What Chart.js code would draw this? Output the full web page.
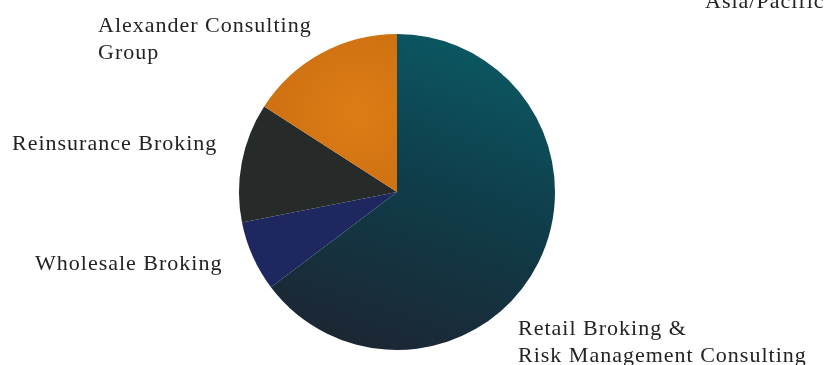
<!DOCTYPE html>
<html lang="en">

<head>
    <meta charset="UTF-8">
    <title>Business Mix</title>
    <style>
        html, body { margin: 0; padding: 0; background: #fff; }
        #wrap { width: 825px; height: 365px; }
    </style>
</head>

<body>
    <div id="wrap">
        <canvas id="myChart01"></canvas>
    </div>
</body>
<script src="https://cdn.jsdelivr.net/npm/chart.js"></script>
<script>
    // slices, clockwise from 12 o'clock (share of total, %)
    var segments = ['Retail Broking & Risk Management Consulting', 'Wholesale Broking', 'Reinsurance Broking', 'Alexander Consulting Group'];
    var shares = [64.7, 7.2, 12.2, 15.9];
    var sliceColors = ['#0f4450', '#1e2760', '#262a29', '#d67818'];

    // text around the pie
    var labelLines = [
        ['Alexander Consulting', 'Group'],
        ['Reinsurance Broking'],
        ['Wholesale Broking'],
        ['Retail Broking &', 'Risk Management Consulting'],
        ['Asia/Pacific']
    ];

    function sliceFill(context) {
        var chart = context.chart;
        var area = chart.chartArea;
        if (!area) return sliceColors[context.dataIndex];
        var cx = (area.left + area.right) / 2;
        var cy = (area.top + area.bottom) / 2;
        var r = Math.min(area.right - area.left, area.bottom - area.top) / 2;
        var ctx = chart.ctx;
        var g;
        if (context.dataIndex == 0) {
            g = ctx.createLinearGradient(cx + r * 0.35, cy - r, cx - r * 0.35, cy + r);
            g.addColorStop(0, '#0b5862');
            g.addColorStop(0.45, '#0f3d4a');
            g.addColorStop(1, '#1d2532');
            return g;
        }
        if (context.dataIndex == 3) {
            g = ctx.createRadialGradient(cx - r * 0.25, cy - r * 0.5, 5, cx - r * 0.25, cy - r * 0.5, r * 0.8);
            g.addColorStop(0, '#dc7c16');
            g.addColorStop(1, '#c86c10');
            return g;
        }
        return sliceColors[context.dataIndex];
    }

    // draws the outside captions
    var captions = {
        id: 'captions',
        afterDraw: function (chart) {
            var ctx = chart.ctx;
            var spots = [[98, 32], [12, 150], [35, 270], [518, 335], [705, 8]];
            ctx.save();
            ctx.fillStyle = '#222222';
            ctx.font = '22px "Liberation Serif", "DejaVu Serif", serif';
            ctx.letterSpacing = '1px';
            ctx.textBaseline = 'alphabetic';
            labelLines.forEach(function (lines, i) {
                lines.forEach(function (t, j) {
                    ctx.fillText(t, spots[i][0], spots[i][1] + j * 27);
                });
            });
            ctx.restore();
        }
    };

    var mychart01 = new Chart(document.getElementById('myChart01'), {
        type: 'pie',
        data: {
            labels: segments,
            datasets: [{
                data: shares,
                backgroundColor: sliceFill,
                borderWidth: 0
            }]
        },
        options: {
            responsive: true,
            maintainAspectRatio: false,
            animation: false,
            layout: { padding: { top: 34, bottom: 15, left: 0, right: 31 } },
            plugins: {
                legend: { display: false },
                tooltip: { enabled: false }
            }
        },
        plugins: [captions]
    });
</script>

</html>
